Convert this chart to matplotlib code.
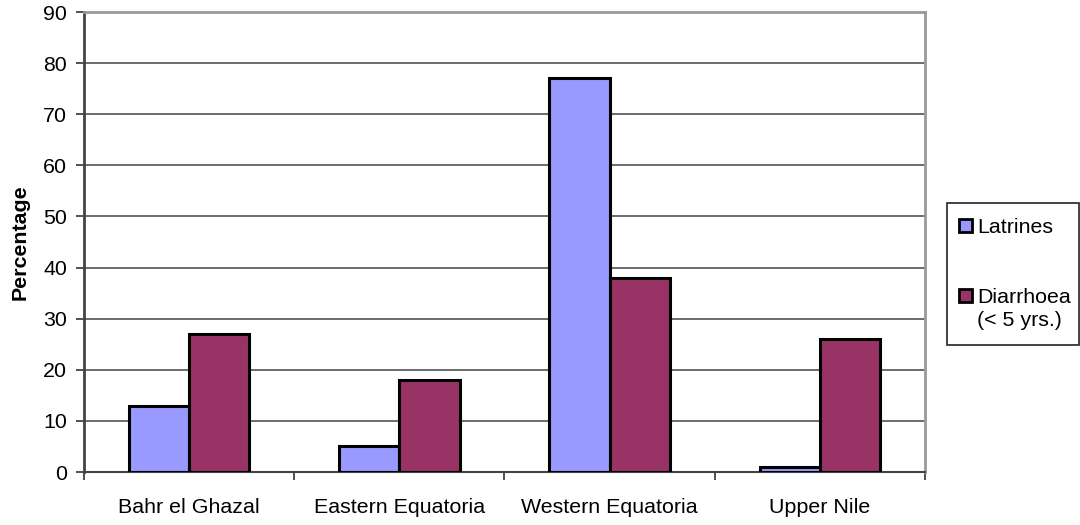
import numpy as np
import matplotlib
matplotlib.use("Agg")
import matplotlib.pyplot as plt
from matplotlib.patches import Rectangle

# Regions and survey percentages
regions = ["Bahr el Ghazal", "Eastern Equatoria", "Western Equatoria", "Upper Nile"]
latrines = [13, 5, 77, 1]
diarrhoea = [27, 18, 38, 26]
y_ticks = list(range(0, 100, 10))

plt.rcParams["font.family"] = ["Liberation Sans", "DejaVu Sans"]
plt.rcParams["font.size"] = 15.4

W, H = 1080, 525
fig = plt.figure(figsize=(W / 100, H / 100), dpi=100)
ax = fig.add_axes([84 / W, 1 - 472 / H, (925 - 84) / W, (472 - 12) / H])

x = np.arange(len(regions))
bw = 0.286
ax.bar(x - bw / 2, latrines, bw, color="#9999FF", edgecolor="black", linewidth=2.2, zorder=3)
ax.bar(x + bw / 2, diarrhoea, bw, color="#993366", edgecolor="black", linewidth=2.2, zorder=3)

ax.set_xlim(-0.5, len(regions) - 0.5)
ax.set_ylim(0, 90)
ax.set_yticks(y_ticks)
ax.yaxis.grid(True, color="#444444", linewidth=1.1, zorder=0)

ax.set_xticks(x)
ax.set_xticklabels(regions)
ax.set_xticks(np.arange(-0.5, len(regions)), minor=True)
ax.tick_params(axis="x", which="major", length=0, pad=19)
ax.tick_params(axis="x", which="minor", length=6, width=1.2, color="#333333")
ax.tick_params(axis="y", length=6, width=1.2, color="#333333", pad=6)

ax.spines["left"].set_color("#444444")
ax.spines["left"].set_linewidth(2)
ax.spines["bottom"].set_color("#444444")
ax.spines["bottom"].set_linewidth(1.5)
for s in ("top", "right"):
    ax.spines[s].set_color("#999999")
    ax.spines[s].set_linewidth(2)

ax.set_ylabel("Percentage", fontweight="bold", labelpad=10)

# legend box drawn by hand, clipped at the right edge
fig.patches.append(Rectangle((947 / W, 1 - 345 / H), (1079 - 947) / W, (345 - 203) / H,
                             transform=fig.transFigure, facecolor="white",
                             edgecolor="#222222", linewidth=1.2))
entries = [("#9999FF", "Latrines", 226), ("#993366", "Diarrhoea\n(< 5 yrs.)", 296)]
for color, label, yc in entries:
    fig.patches.append(Rectangle((959 / W, 1 - (yc + 6) / H), 13 / W, 13 / H,
                                 transform=fig.transFigure, facecolor=color,
                                 edgecolor="black", linewidth=2))
    fig.text(977 / W, 1 - (yc - 8) / H, label, ha="left", va="top",
             linespacing=1.25)

fig.savefig("out.png", dpi=100)
